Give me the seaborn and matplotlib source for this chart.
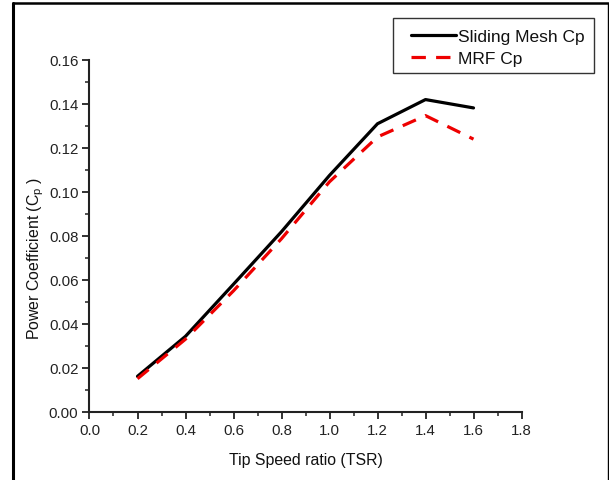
import matplotlib
matplotlib.use("Agg")
import matplotlib.pyplot as plt
import seaborn as sns
import pandas as pd
from matplotlib.ticker import MultipleLocator
from matplotlib.lines import Line2D
from matplotlib.patches import Rectangle

tsr = [0.2, 0.4, 0.6, 0.8, 1.0, 1.2, 1.4, 1.6]
sliding_cp = [0.0161, 0.0343, 0.0580, 0.0819, 0.1075, 0.1310, 0.1420, 0.1382]
mrf_cp = [0.0150, 0.0330, 0.0550, 0.0787, 0.1046, 0.1250, 0.1347, 0.1240]
series_names = ["Sliding Mesh Cp", "MRF Cp"]
x_label = "Tip Speed ratio (TSR)"
y_label = "Power Coefficient (C$_\\mathregular{p}$ )"

sns.set_theme(style="ticks")
plt.rcParams["font.family"] = ["Liberation Sans", "DejaVu Sans"]
plt.rcParams["mathtext.default"] = "regular"

W, H = 609, 481
fig = plt.figure(figsize=(W / 100, H / 100), dpi=100)
ax = fig.add_axes([89.5 / W, 1 - 412.7 / H, 432 / W, 351.7 / H])

df_s = pd.DataFrame({"TSR": tsr, "Cp": sliding_cp})
df_m = pd.DataFrame({"TSR": tsr, "Cp": mrf_cp})
sns.lineplot(data=df_s, x="TSR", y="Cp", ax=ax, color="black", lw=2.3,
             label=series_names[0])
sns.lineplot(data=df_m, x="TSR", y="Cp", ax=ax, color="#ee0000", lw=2.3,
             label=series_names[1])
ax.lines[1].set_dashes((4.5, 3.2))

ax.set_xlim(0, 1.8)
ax.set_ylim(0, 0.16)
ax.xaxis.set_major_locator(MultipleLocator(0.2))
ax.xaxis.set_minor_locator(MultipleLocator(0.1))
ax.yaxis.set_major_locator(MultipleLocator(0.02))
ax.yaxis.set_minor_locator(MultipleLocator(0.01))
ax.xaxis.set_major_formatter(matplotlib.ticker.FormatStrFormatter("%.1f"))
ax.yaxis.set_major_formatter(matplotlib.ticker.FormatStrFormatter("%.2f"))
for s in ["top", "right"]:
    ax.spines[s].set_visible(False)
for s in ["left", "bottom"]:
    ax.spines[s].set_linewidth(1.5)
    ax.spines[s].set_color("#222222")
ax.tick_params(which="major", direction="out", length=5, width=1.3,
               labelsize=10.8, color="#222222", labelcolor="#222222", pad=3)
ax.tick_params(which="minor", direction="out", length=3, width=1.1, color="#222222")

ax.set_xlabel(x_label, fontsize=11.4, color="#111111")
ax.set_ylabel(y_label, fontsize=11.4, color="#111111")
ax.xaxis.set_label_coords(0.5, -0.115)
ax.yaxis.set_label_coords(-0.100, 0.44)

leg = ax.legend(loc="upper left", bbox_to_anchor=(411 / W, 1 - 29.5 / H),
                bbox_transform=fig.transFigure, fontsize=12.5, frameon=False,
                handlelength=2.6, handletextpad=0.12, labelspacing=0.4,
                borderpad=0, borderaxespad=0)
for t in leg.get_texts():
    t.set_color("#111111")
fig.add_artist(Rectangle((393 / W, 1 - 74 / H), (594 - 393) / W, (74 - 19) / H,
                         transform=fig.transFigure, fill=False,
                         edgecolor="#333333", lw=1.0))

# figure frame
fig.add_artist(Line2D([13 / W, 13 / W], [0, 1 - 3.5 / H], transform=fig.transFigure,
                      color="black", lw=2.2))
fig.add_artist(Line2D([13 / W, 607.5 / W], [1 - 3.5 / H, 1 - 3.5 / H],
                      transform=fig.transFigure, color="black", lw=1.8))
fig.add_artist(Line2D([607.5 / W, 607.5 / W], [0, 1 - 3.5 / H], transform=fig.transFigure,
                      color="black", lw=1.0))

fig.savefig("out.png", dpi=100)
